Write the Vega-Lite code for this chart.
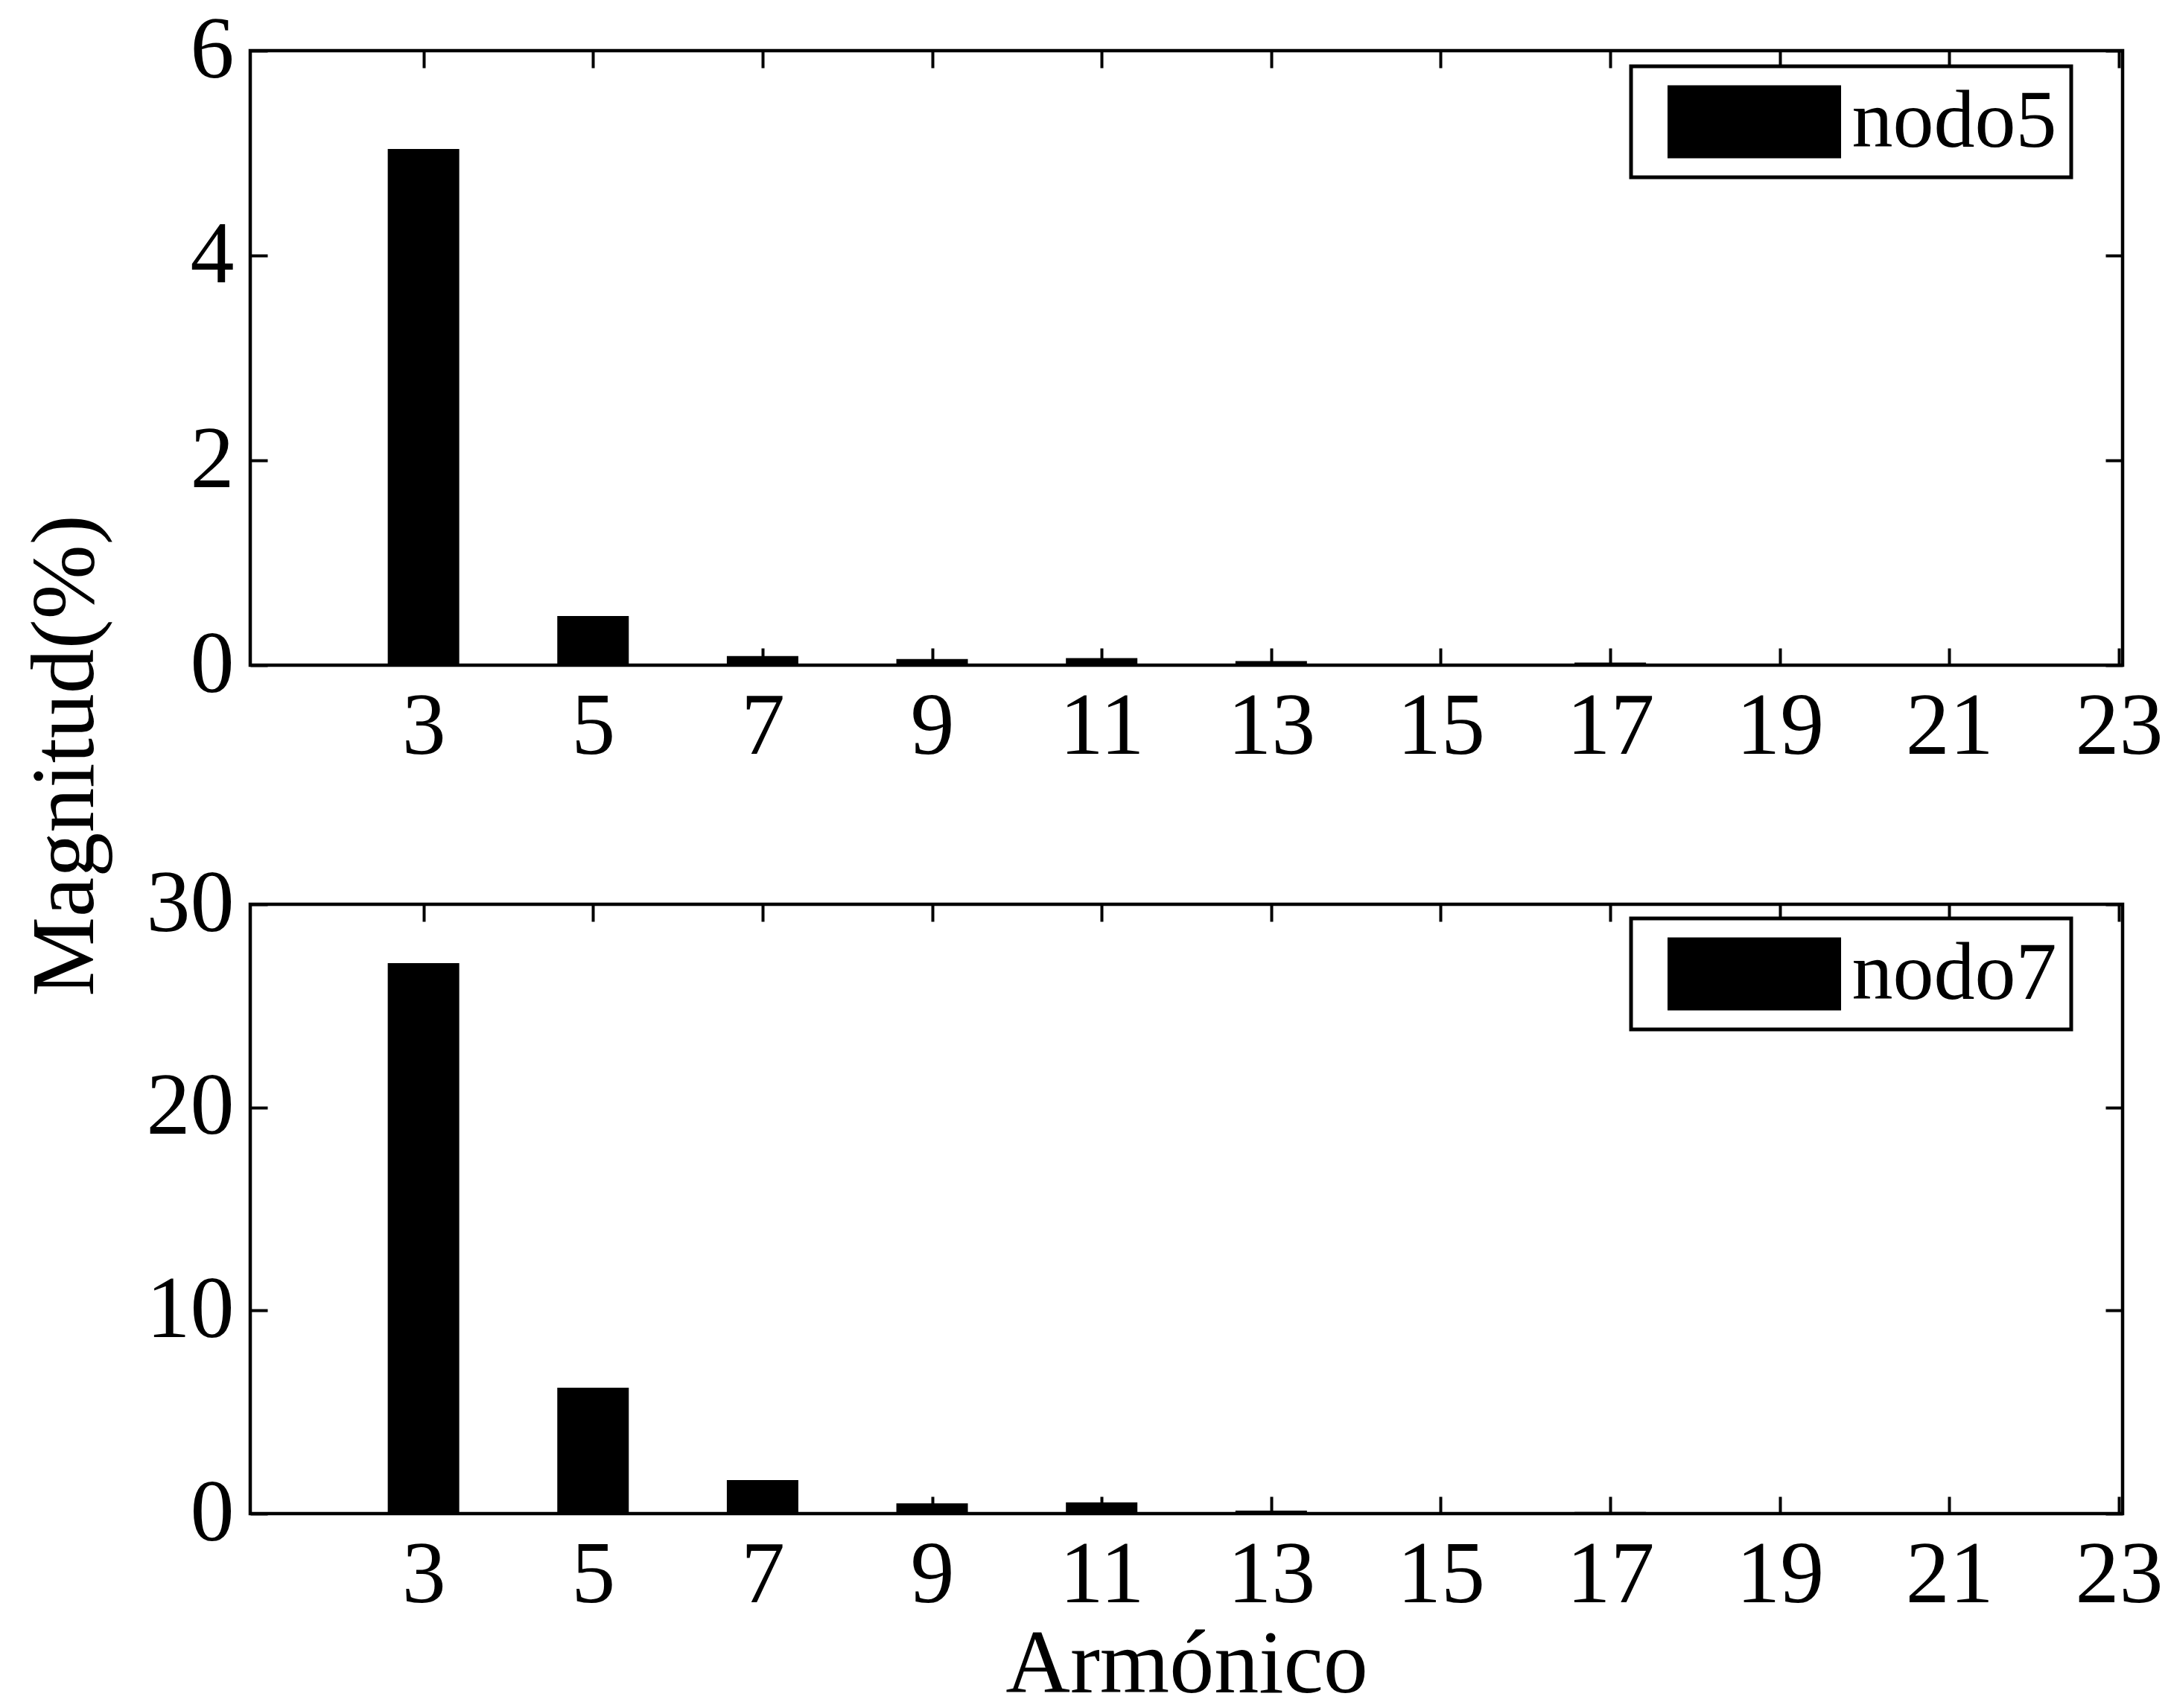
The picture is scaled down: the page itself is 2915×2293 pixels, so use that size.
{
  "$schema": "https://vega.github.io/schema/vega-lite/v6.json",
  "background": "white",
  "padding": {"left": 25, "top": 6, "right": 0, "bottom": 0},
  "datasets": {
    "n5": [
      {"h": 3, "v": 5.04, "node": "nodo5"},
      {"h": 5, "v": 0.48, "node": "nodo5"},
      {"h": 7, "v": 0.09, "node": "nodo5"},
      {"h": 9, "v": 0.06, "node": "nodo5"},
      {"h": 11, "v": 0.07, "node": "nodo5"},
      {"h": 13, "v": 0.04, "node": "nodo5"},
      {"h": 15, "v": 0.015, "node": "nodo5"},
      {"h": 17, "v": 0.025, "node": "nodo5"},
      {"h": 19, "v": 0.01, "node": "nodo5"},
      {"h": 21, "v": 0.01, "node": "nodo5"},
      {"h": 23, "v": 0.005, "node": "nodo5"}
    ],
    "n7": [
      {"h": 3, "v": 27.1, "node": "nodo7"},
      {"h": 5, "v": 6.2, "node": "nodo7"},
      {"h": 7, "v": 1.65, "node": "nodo7"},
      {"h": 9, "v": 0.5, "node": "nodo7"},
      {"h": 11, "v": 0.55, "node": "nodo7"},
      {"h": 13, "v": 0.15, "node": "nodo7"},
      {"h": 15, "v": 0.05, "node": "nodo7"},
      {"h": 17, "v": 0.08, "node": "nodo7"},
      {"h": 19, "v": 0.02, "node": "nodo7"},
      {"h": 21, "v": 0.02, "node": "nodo7"},
      {"h": 23, "v": 0.01, "node": "nodo7"}
    ]
  },
  "config": {
    "font": "Liberation Serif",
    "view": {"stroke": "black", "strokeWidth": 4.5},
    "axis": {
      "domain": false, "grid": false,
      "labelFont": "Liberation Serif", "labelFontSize": 118, "labelColor": "black",
      "labelFlush": false, "labelOverlap": false, "labelBound": false,
      "tickColor": "black", "tickWidth": 4, "tickSize": -23,
      "titleFont": "Liberation Serif", "titleFontSize": 120, "titleFontWeight": "normal", "titleColor": "black"
    },
    "legend": {
      "strokeColor": "black", "strokeWidth": 5, "fillColor": "white",
      "padding": 19.5,
      "symbolType": "M-2.378,-1H2.378V1H-2.378Z", "symbolSize": 9604,
      "symbolStrokeWidth": 0, "symbolOffset": 91,
      "labelOffset": 76, "labelFont": "Liberation Serif", "labelFontSize": 110,
      "labelColor": "black", "labelLimit": 1000,
      "labelExpr": "datum.label + '\u00a0'"
    }
  },
  "spacing": 321,
  "bounds": "flush",
  "resolve": {"scale": {"color": "independent"}, "legend": {"color": "independent"}},
  "vconcat": [
    {
      "width": 2514, "height": 825,
      "data": {"name": "n5"},
      "layer": [
        {
          "mark": {"type": "bar", "width": 96, "orient": "vertical", "color": "black", "clip": true},
          "encoding": {
            "x": {"field": "h", "type": "quantitative",
                  "scale": {"domain": [1, 23], "nice": false, "zero": false},
                  "axis": {"values": [3, 5, 7, 9, 11, 13, 15, 17, 19, 21, 23], "labelPadding": 48, "title": null}},
            "y": {"field": "v", "type": "quantitative",
                  "scale": {"domain": [0, 6], "nice": false},
                  "axis": {"values": [0, 2, 4, 6], "labelPadding": 45, "title": "Magnitud(%)",
                           "titleX": -212, "titleY": 946, "titleAngle": -90, "titleAlign": "center", "titleBaseline": "alphabetic"}},
            "color": {"field": "node", "type": "nominal", "scale": {"range": ["black"]},
                      "legend": {"title": null, "orient": "none", "legendX": 1854, "legendY": 21}}
          }
        },
        {
          "mark": {"type": "bar", "width": 96, "orient": "vertical", "opacity": 0, "clip": true},
          "encoding": {
            "x": {"field": "h", "type": "quantitative",
                  "axis": {"orient": "top", "values": [3, 5, 7, 9, 11, 13, 15, 17, 19, 21, 23], "labels": false, "title": null}},
            "y": {"field": "v", "type": "quantitative",
                  "axis": {"orient": "right", "values": [0, 2, 4, 6], "labels": false, "title": null}}
          }
        }
      ],
      "resolve": {"axis": {"x": "independent", "y": "independent"}}
    },
    {
      "width": 2514, "height": 818,
      "data": {"name": "n7"},
      "layer": [
        {
          "mark": {"type": "bar", "width": 96, "orient": "vertical", "color": "black", "clip": true},
          "encoding": {
            "x": {"field": "h", "type": "quantitative",
                  "scale": {"domain": [1, 23], "nice": false, "zero": false},
                  "axis": {"values": [3, 5, 7, 9, 11, 13, 15, 17, 19, 21, 23], "labelPadding": 48, "title": "Armónico",
                           "titleY": 239, "titleBaseline": "alphabetic", "titleAlign": "center"}},
            "y": {"field": "v", "type": "quantitative",
                  "scale": {"domain": [0, 30], "nice": false},
                  "axis": {"values": [0, 10, 20, 30], "labelPadding": 45, "title": null}},
            "color": {"field": "node", "type": "nominal", "scale": {"range": ["black"]},
                      "legend": {"title": null, "orient": "none", "legendX": 1854, "legendY": 19}}
          }
        },
        {
          "mark": {"type": "bar", "width": 96, "orient": "vertical", "opacity": 0, "clip": true},
          "encoding": {
            "x": {"field": "h", "type": "quantitative",
                  "axis": {"orient": "top", "values": [3, 5, 7, 9, 11, 13, 15, 17, 19, 21, 23], "labels": false, "title": null}},
            "y": {"field": "v", "type": "quantitative",
                  "axis": {"orient": "right", "values": [0, 10, 20, 30], "labels": false, "title": null}}
          }
        }
      ],
      "resolve": {"axis": {"x": "independent", "y": "independent"}}
    }
  ]
}
